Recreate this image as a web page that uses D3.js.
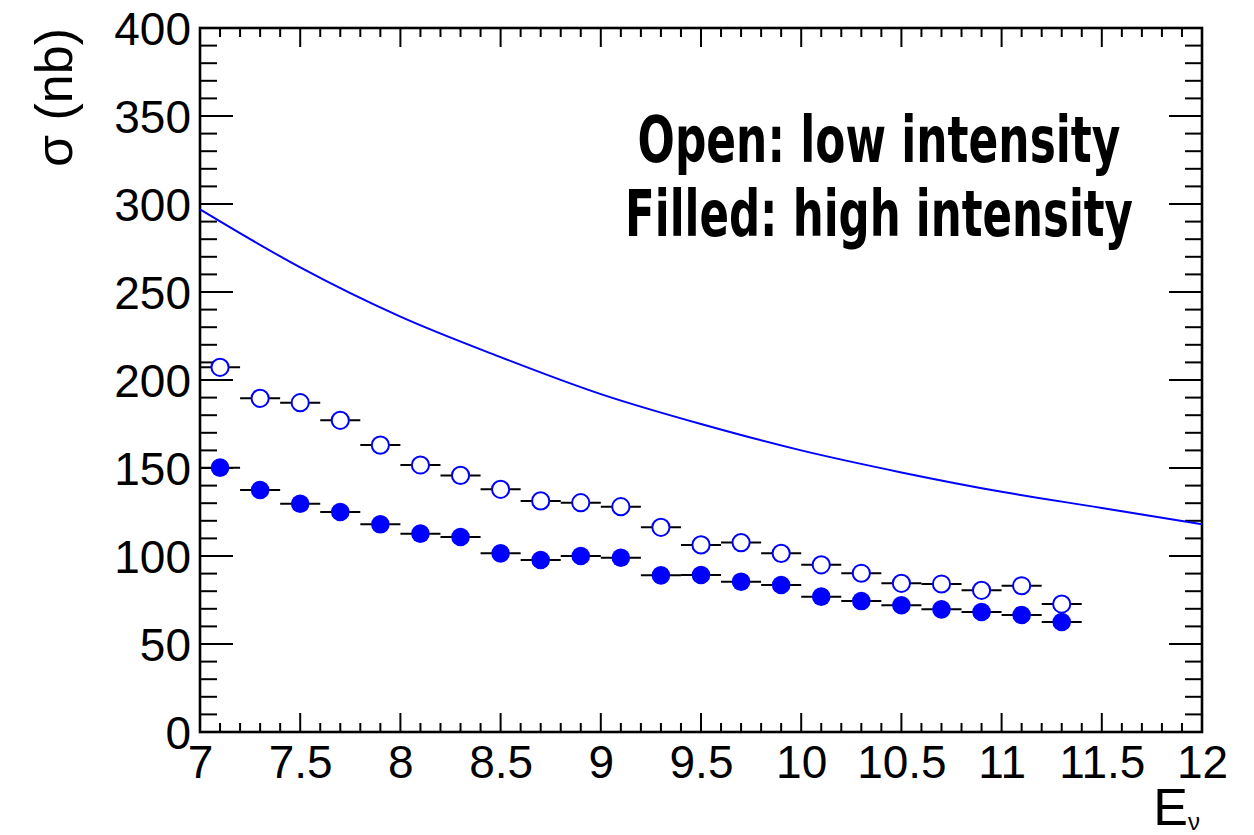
<!DOCTYPE html>
<html>
<head>
<meta charset="utf-8">
<script src="https://cdn.jsdelivr.net/npm/d3@7"></script>
<style>
  html, body { margin: 0; padding: 0; background: #fff; }
  svg { display: block; }
</style>
</head>
<body>
<svg id="chart" width="1254" height="835"></svg>
<script>
// ---- Data ----
const energies = [7.1, 7.3, 7.5, 7.7, 7.9, 8.1, 8.3, 8.5, 8.7, 8.9, 9.1,
                  9.3, 9.5, 9.7, 9.9, 10.1, 10.3, 10.5, 10.7, 10.9, 11.1, 11.3];
const lowIntensity  = [207.2, 189.6, 187.1, 177.1, 163.0, 151.7, 145.8, 137.9, 131.3, 130.3, 128.0,
                       116.3, 106.3, 107.6, 101.5, 95.0, 90.2, 84.5, 84.1, 80.5, 83.1, 72.7];
const highIntensity = [150.2, 137.5, 129.7, 125.0, 118.0, 112.7, 110.8, 101.5, 97.7, 100.0, 99.0,
                       89.0, 89.2, 85.4, 83.5, 76.9, 74.4, 72.0, 69.7, 68.2, 66.5, 62.5];
const binWidth = 0.2;
const curveE     = [7, 7.5, 8, 8.5, 9, 9.5, 10, 10.5, 11, 11.5, 12];
const curveSigma = [297, 264, 236, 213, 192, 175, 160, 147.5, 136.5, 127.3, 118];
const xTicks = [7, 7.5, 8, 8.5, 9, 9.5, 10, 10.5, 11, 11.5, 12];
const yTicks = [0, 50, 100, 150, 200, 250, 300, 350, 400];
const legendLines = ["Open: low intensity", "Filled: high intensity"];

// ---- Layout ----
const L = 200, R = 1202, T = 28, B = 732;
const svg = d3.select("#chart");
const x = d3.scaleLinear().domain([7, 12]).range([L, R]);
const y = d3.scaleLinear().domain([0, 400]).range([B, T]);
const font = "'Liberation Sans', Arial, Helvetica, sans-serif";
const blue = "#0000ff";

// ---- Ticks (inside, all four sides) ----
const xMinor = d3.range(70, 121).map(d => d / 10);
const yMinor = d3.range(0, 401, 10);
const tickG = svg.append("g").attr("stroke", "#000").attr("stroke-width", 2);
xMinor.forEach(v => {
  const major = Math.abs(v * 2 - Math.round(v * 2)) < 1e-6;
  const len = major ? 19 : 9;
  tickG.append("line").attr("x1", x(v)).attr("x2", x(v)).attr("y1", B).attr("y2", B - len);
  tickG.append("line").attr("x1", x(v)).attr("x2", x(v)).attr("y1", T).attr("y2", T + len);
});
yMinor.forEach(v => {
  const major = v % 50 === 0;
  const len = major ? 33 : 17;
  tickG.append("line").attr("y1", y(v)).attr("y2", y(v)).attr("x1", L).attr("x2", L + len);
  tickG.append("line").attr("y1", y(v)).attr("y2", y(v)).attr("x1", R).attr("x2", R - len);
});

// ---- Frame ----
svg.append("rect").attr("x", L).attr("y", T).attr("width", R - L).attr("height", B - T)
  .attr("fill", "none").attr("stroke", "#000").attr("stroke-width", 2.6);

// ---- Tick labels via axes (tick lines hidden) ----
const xAxis = d3.axisBottom(x).tickValues(xTicks).tickSize(0).tickPadding(0)
  .tickFormat(d => String(d));
const gx = svg.append("g").attr("transform", `translate(0,${B})`).call(xAxis);
gx.select(".domain").remove();
gx.selectAll("text").attr("font-family", font).attr("font-size", 46).attr("fill", "#000")
  .attr("dy", null).attr("y", 46);

const yAxis = d3.axisLeft(y).tickValues(yTicks).tickSize(0).tickPadding(0)
  .tickFormat(d => String(d));
const gy = svg.append("g").attr("transform", `translate(${L - 9},0)`).call(yAxis);
gy.select(".domain").remove();
gy.selectAll("text").attr("font-family", font).attr("font-size", 46).attr("fill", "#000")
  .attr("dy", "0.36em").attr("x", 0);

// ---- Axis titles ----
svg.append("text")
  .attr("transform", `translate(72,${T}) rotate(-90)`)
  .attr("text-anchor", "end")
  .attr("font-family", font).attr("font-size", 52).attr("fill", "#000")
  .text("σ (nb)");

const xt = svg.append("text")
  .attr("x", R - 2).attr("y", 825)
  .attr("text-anchor", "end")
  .attr("font-family", font).attr("font-size", 52).attr("fill", "#000");
xt.append("tspan").text("E");
xt.append("tspan").attr("font-size", 24).attr("dy", 5).text("ν");

// ---- Theory curve ----
const line = d3.line().x(d => x(d[0])).y(d => y(d[1])).curve(d3.curveMonotoneX);
svg.append("path")
  .datum(curveE.map((e, i) => [e, curveSigma[i]]))
  .attr("d", line)
  .attr("fill", "none").attr("stroke", blue).attr("stroke-width", 2);

// ---- Data points with horizontal error bars ----
function drawSeries(vals, open) {
  const g = svg.append("g");
  const pts = energies.map((e, i) => ({ e, v: vals[i] }));
  g.selectAll("line.err").data(pts).join("line").attr("class", "err")
    .attr("x1", d => x(d.e - binWidth / 2)).attr("x2", d => x(d.e + binWidth / 2))
    .attr("y1", d => y(d.v)).attr("y2", d => y(d.v))
    .attr("stroke", "#000").attr("stroke-width", 2);
  g.selectAll("circle").data(pts).join("circle")
    .attr("cx", d => x(d.e)).attr("cy", d => y(d.v))
    .attr("r", open ? 8.6 : 9.3)
    .attr("fill", open ? "#fff" : blue)
    .attr("stroke", blue).attr("stroke-width", open ? 2 : 0);
}
drawSeries(lowIntensity, true);
drawSeries(highIntensity, false);

// ---- Annotation: tall condensed bold, via horizontal scaling ----
const annFont = "'Liberation Sans Narrow', 'DejaVu Sans Condensed', 'Liberation Sans', Arial, sans-serif";
const annWidths = [483, 508];
const annY = [162, 236];
const annSize = 64;
legendLines.forEach((t, i) => {
  const txt = svg.append("text")
    .attr("x", 0).attr("y", 0)
    .attr("text-anchor", "middle")
    .attr("font-family", annFont).attr("font-weight", "bold").attr("font-size", annSize)
    .attr("fill", "#000")
    .text(t);
  const w = txt.node().getComputedTextLength();
  const sx = w > 0 ? annWidths[i] / w : 1;
  txt.attr("transform", `translate(879,${annY[i]}) scale(${sx},1)`);
});
</script>
</body>
</html>
